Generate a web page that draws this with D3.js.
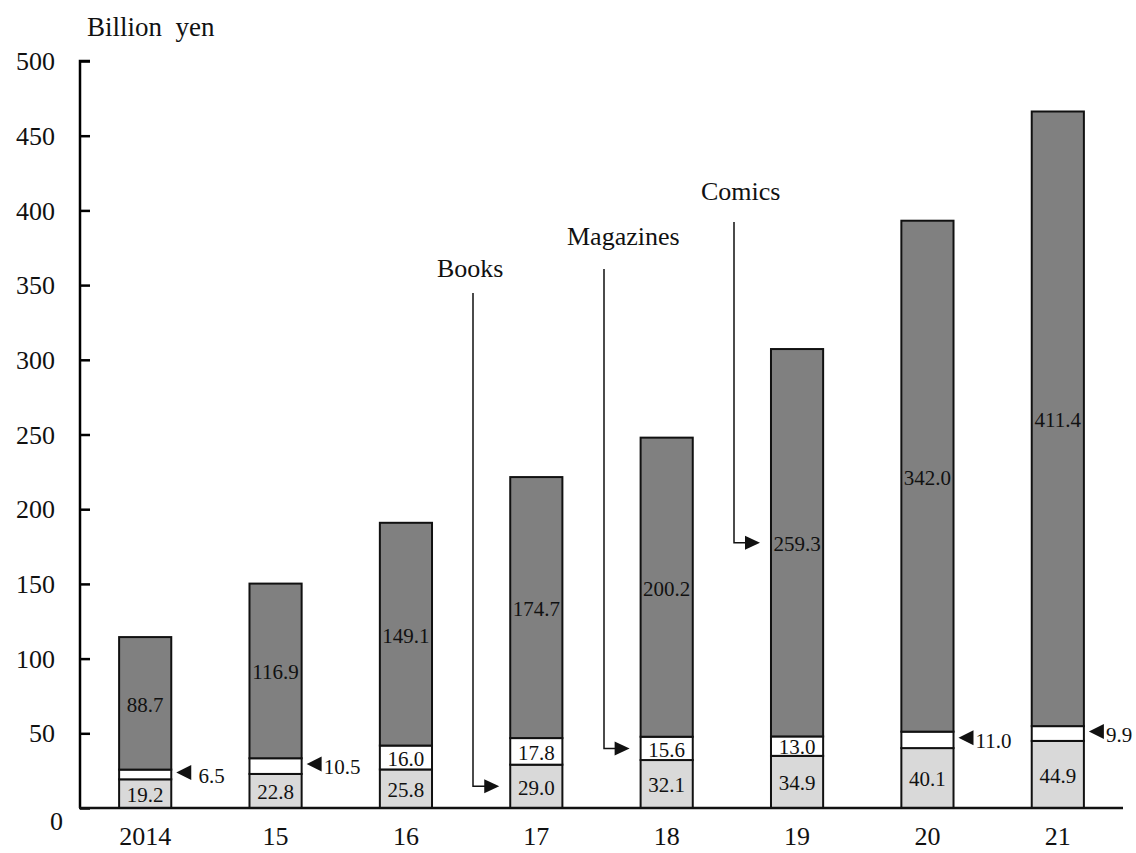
<!DOCTYPE html>
<html>

<head>
	<title>Electronic publishing sales</title>
	<style>
		html,
		body {
			margin: 0;
			background: white;
		}

		svg text {
			font-family: "Liberation Serif", "Times New Roman", serif;
			fill: #111;
		}
	</style>
	<script src="https://cdn.jsdelivr.net/npm/d3@7/dist/d3.min.js"></script>
</head>

<body>
	<svg id="svg" width="1136" height="853"></svg>

	<script>
		const years = ['2014', '15', '16', '17', '18', '19', '20', '21'];
		const books = [19.2, 22.8, 25.8, 29.0, 32.1, 34.9, 40.1, 44.9];
		const magazines = [6.5, 10.5, 16.0, 17.8, 15.6, 13.0, 11.0, 9.9];
		const comics = [88.7, 116.9, 149.1, 174.7, 200.2, 259.3, 342.0, 411.4];
		const yTicks = [0, 50, 100, 150, 200, 250, 300, 350, 400, 450, 500];
		// magazine values shown outside the bar with a small pointer
		const outsideMag = ['2014', '15', '20', '21'];

		const svg = d3.select('#svg');
		const plotLeft = 80, plotRight = 1123, plotTop = 61, plotBottom = 808;

		const x = d3.scaleBand()
			.domain(years)
			.range([plotLeft, plotRight])
			.paddingInner(0.6)
			.paddingOuter(0.3);

		const y = d3.scaleLinear()
			.domain([0, 500])
			.range([plotBottom, plotTop]);

		const rows = years.map((yr, i) => ({
			year: yr,
			parts: [
				{ key: 'books', v: books[i], y0: 0, y1: books[i], fill: '#d9d9d9' },
				{ key: 'magazines', v: magazines[i], y0: books[i], y1: books[i] + magazines[i], fill: '#ffffff' },
				{ key: 'comics', v: comics[i], y0: books[i] + magazines[i], y1: books[i] + magazines[i] + comics[i], fill: '#808080' }
			]
		}));

		// y axis
		const yAxis = svg.append('g')
			.attr('transform', `translate(${plotLeft},0)`)
			.call(d3.axisRight(y).tickValues(yTicks).tickSize(10).tickFormat(''));
		yAxis.select('.domain').attr('stroke-width', 2.5).attr('d', `M10,${plotTop}H0V${plotBottom}`);
		yAxis.selectAll('.tick line').attr('stroke-width', 2.5);

		svg.selectAll('.ylab')
			.data(yTicks)
			.join('text')
			.attr('class', 'ylab')
			.attr('x', d => d === 0 ? 63 : 55)
			.attr('y', d => d === 0 ? y(d) + 13 : y(d))
			.attr('dy', '0.35em')
			.attr('text-anchor', 'end')
			.style('font-size', '26px')
			.text(d => d);

		svg.append('text')
			.attr('x', 87)
			.attr('y', 36)
			.style('font-size', '27px')
			.style('white-space', 'pre')
			.text('Billion  yen');

		// bars
		const bar = svg.selectAll('.bar')
			.data(rows)
			.join('g')
			.attr('class', 'bar');

		bar.selectAll('rect')
			.data(d => d.parts.map(p => ({ ...p, year: d.year })))
			.join('rect')
			.attr('x', d => x(d.year))
			.attr('width', x.bandwidth())
			.attr('y', d => y(d.y1))
			.attr('height', d => y(d.y0) - y(d.y1))
			.attr('fill', d => d.fill)
			.attr('stroke', '#111')
			.attr('stroke-width', 2);

		// value labels
		bar.selectAll('.val')
			.data(d => d.parts.map(p => ({ ...p, year: d.year })))
			.join('text')
			.attr('class', 'val')
			.attr('x', d => {
				if (d.key === 'magazines' && outsideMag.includes(d.year)) return x(d.year) + x.bandwidth() + 22;
				return x(d.year) + x.bandwidth() / 2;
			})
			.attr('y', d => (y(d.y0) + y(d.y1)) / 2 + 1)
			.attr('dy', '0.35em')
			.attr('text-anchor', d => (d.key === 'magazines' && outsideMag.includes(d.year)) ? 'start' : 'middle')
			.style('font-size', '21px')
			.style('white-space', 'pre')
			.text(d => {
				const s = d.v.toFixed(1);
				return (d.key === 'magazines' && d.year === '2014') ? ' ' + s : s;
			});

		// pointers for outside labels
		rows.filter(r => outsideMag.includes(r.year)).forEach(r => {
			const m = r.parts[1];
			const tx = x(r.year) + x.bandwidth() + 5;
			const ty = (y(m.y0) + y(m.y1)) / 2 - 2;
			svg.append('path')
				.attr('d', `M${tx},${ty}L${tx + 15},${ty - 7.5}L${tx + 15},${ty + 7.5}Z`)
				.attr('fill', '#111');
		});

		// x axis
		svg.append('line')
			.attr('x1', plotLeft - 1).attr('x2', plotRight)
			.attr('y1', plotBottom).attr('y2', plotBottom)
			.attr('stroke', '#111')
			.attr('stroke-width', 2.5);

		svg.selectAll('.xlab')
			.data(years)
			.join('text')
			.attr('class', 'xlab')
			.attr('x', d => x(d) + x.bandwidth() / 2)
			.attr('y', 845)
			.attr('text-anchor', 'middle')
			.style('font-size', '26px')
			.text(d => d);

		// series callouts
		const callouts = [
			{ name: 'Books', year: '17', part: 0, labelX: 437, labelY: 277, lineX: 473, lineTop: 293 },
			{ name: 'Magazines', year: '18', part: 1, labelX: 567, labelY: 245, lineX: 604, lineTop: 269 },
			{ name: 'Comics', year: '19', part: 2, labelX: 701, labelY: 200, lineX: 734, lineTop: 222 }
		];

		callouts.forEach(c => {
			const r = rows.find(d => d.year === c.year);
			const p = r.parts[c.part];
			const ay = (y(p.y0) + y(p.y1)) / 2;
			const tip = x(c.year) - 11;
			svg.append('text')
				.attr('x', c.labelX)
				.attr('y', c.labelY)
				.style('font-size', '26px')
				.text(c.name);
			svg.append('path')
				.attr('d', `M${c.lineX},${c.lineTop}V${ay}H${tip - 14}`)
				.attr('fill', 'none')
				.attr('stroke', '#111')
				.attr('stroke-width', 1.5);
			svg.append('path')
				.attr('d', `M${tip},${ay}L${tip - 15},${ay - 7}L${tip - 15},${ay + 7}Z`)
				.attr('fill', '#111');
		});
	</script>
</body>

</html>
